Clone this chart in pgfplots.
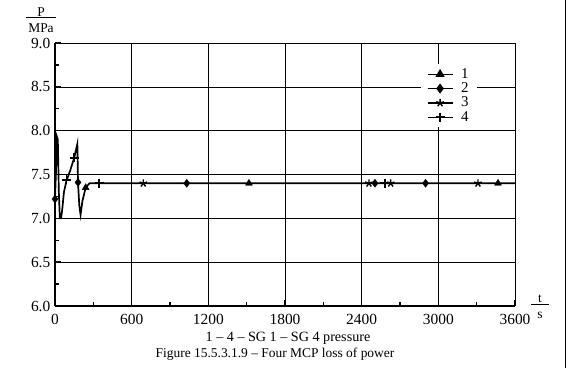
\documentclass[border=0pt]{standalone}
\usepackage{pgfplots}
\pgfplotsset{compat=1.18}
\usepackage{fontspec}
\setmainfont{Liberation Serif}
\begin{document}
\fontsize{13.5}{16}\selectfont
\begin{tikzpicture}[x=1bp,y=1bp]
\useasboundingbox (0,0) rectangle (571,368);
\begin{axis}[at={(55bp,62bp)}, anchor=south west, scale only axis,
  width=460bp, height=263bp,
  xmin=0, xmax=3600, ymin=6, ymax=9,
  xtick={0,600,...,3600}, ytick={6,6.5,...,9},
  minor xtick={300,900,...,3300}, minor ytick={6.25,6.75,...,8.75},
  /pgf/number format/assume math mode=true,
  yticklabel style={/pgf/number format/.cd,fixed,fixed zerofill,precision=1},
  xticklabel style={/pgf/number format/.cd,1000 sep={}, /tikz/yshift=-4bp},
  tick label style={font=\fontsize{15.5}{18}\selectfont},
  grid=major, major grid style={black, line width=0.6bp},
  axis x line*=bottom, axis y line*=left,
  axis line style={line width=2bp,-},
  tick align=inside, major tick length=6bp, minor tick length=4bp,
  tick style={black, line width=1.4bp},
  legend style={at={(0.795,0.92)}, anchor=north west, draw=none, fill=white,
    font=\fontsize{15}{15}\selectfont, row sep=-1.5bp, column sep=6bp, inner xsep=6bp, inner ysep=2bp},
  legend cell align=left,
  legend image code/.code={\draw[#1, mark repeat=2, mark phase=2] plot coordinates {(0bp,0bp)(12.5bp,0bp)(25bp,0bp)};},
]
\addplot[black, line width=1.7bp, forget plot] coordinates {
(0,7.22) (8,7.55) (15,7.93) (22,7.9) (30,7.3) (38,7.0) (48,7.0) (58,7.12)
(70,7.3) (90,7.43) (120,7.55) (150,7.69) (175,7.85) (180,7.41) (190,7.15)
(200,7.04) (215,7.2) (240,7.35) (270,7.4) (3600,7.4)};
\addlegendimage{black, line width=1.3bp, mark=triangle*, mark size=4bp, mark options={solid}}
\addlegendentry{1}
\addlegendimage{black, line width=1.3bp, mark=diamond*, mark size=4bp, mark options={solid}}
\addlegendentry{2}
\addlegendimage{black, line width=1.3bp, mark=star, mark size=4bp, mark options={solid, line width=1.4bp}}
\addlegendentry{3}
\addlegendimage{black, line width=1.3bp, mark=+, mark size=4.5bp, mark options={solid, line width=1.8bp}}
\addlegendentry{4}
\addplot[black, only marks, mark=triangle*, mark size=4bp, forget plot] coordinates {(240,7.35) (1518,7.4) (3467,7.4)};
\addplot[black, only marks, mark=diamond*, mark size=4bp, forget plot] coordinates {(0,7.22) (180,7.41) (1031,7.4) (2504,7.4) (2900,7.4)};
\addplot[black, only marks, mark=star, mark size=4bp, mark options={line width=1.4bp}, forget plot] coordinates {(691,7.4) (2457,7.4) (2627,7.4) (3310,7.4)};
\addplot[black, only marks, mark=+, mark size=4.5bp, mark options={line width=1.8bp}, forget plot] coordinates {(90,7.44) (150,7.69) (345,7.4) (2582,7.4)};
\end{axis}
\node at (41,355.5) {P};
\draw[line width=0.8bp] (26,350.3) -- (56,350.3);
\node at (41,340) {MPa};
\node at (540,69) {t};
\draw[line width=0.8bp] (531,64) -- (549,64);
\node at (540,53) {s};
\node[font=\fontsize{14.2}{16}\selectfont] at (288,30) {1 -- 4 -- SG 1 -- SG 4 pressure};
\node at (275,14) {Figure 15.5.3.1.9 -- Four MCP loss of power};
\draw[line width=0.6bp] (565,0) -- (565,368);
\end{tikzpicture}
\end{document}
